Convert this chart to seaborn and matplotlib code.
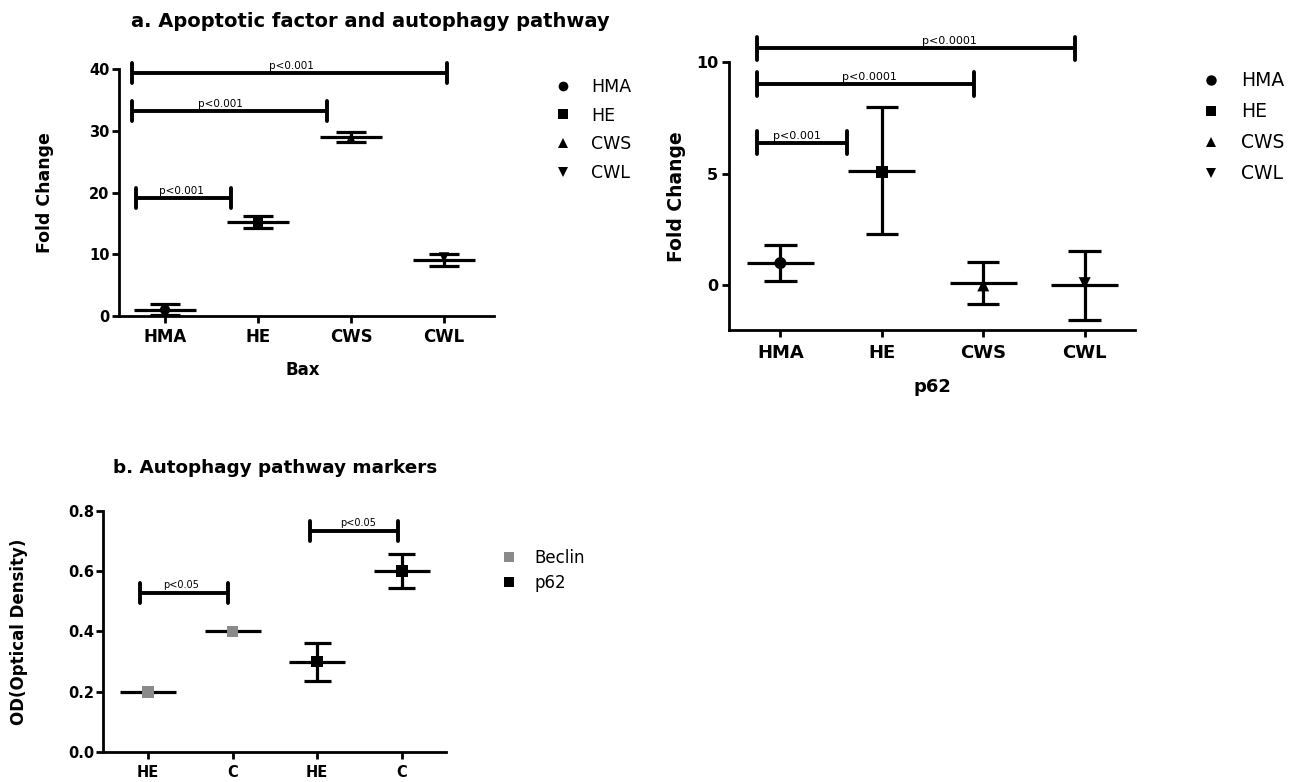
import numpy as np
import pandas as pd
import matplotlib
matplotlib.use("Agg")
import matplotlib.pyplot as plt
import seaborn as sns

# ---------------- data ----------------
groups = ["HMA", "HE", "CWS", "CWL"]
group_markers = ["o", "s", "^", "v"]

bax_mean = [1.05, 15.2, 29.0, 9.05]
bax_sem = [0.9, 1.0, 0.85, 0.95]
bax_point = [1.0, 15.1, 28.8, 9.5]

p62_mean = [1.0, 5.15, 0.1, 0.0]
p62_sem = [0.82, 2.85, 0.95, 1.55]
p62_point = [1.0, 5.1, 0.0, 0.1]

b_ticklabels = ["HE", "C", "HE", "C"]
b_marker = ["Beclin", "Beclin", "p62", "p62"]
b_mean = [0.2, 0.4, 0.3, 0.6]
b_sem = [0.0, 0.0, 0.063, 0.057]

# significance brackets: (x_start, x_end, y, label, label_x)
bax_brackets = [(-0.36, 3.03, 39.35, "p<0.001", 1.36),
                (-0.36, 1.74, 33.24, "p<0.001", 0.60),
                (-0.31, 0.705, 19.18, "p<0.001", 0.18)]
p62_brackets = [(-0.226, 2.90, 10.63, "p<0.0001", 1.67),
                (-0.226, 1.91, 9.03, "p<0.0001", 0.88),
                (-0.226, 0.658, 6.40, "p<0.001", 0.16)]
b_brackets = [(-0.093, 0.949, 0.528, "p<0.05", 0.39),
              (1.918, 2.96, 0.733, "p<0.05", 2.48)]

# ---------------- style ----------------
sns.set_theme(style="ticks")
plt.rcParams["font.family"] = ["DejaVu Sans"]
plt.rcParams["axes.linewidth"] = 2.0
plt.rcParams["xtick.major.width"] = 2.0
plt.rcParams["ytick.major.width"] = 2.0
plt.rcParams["xtick.major.size"] = 4.8
plt.rcParams["ytick.major.size"] = 4.8
plt.rcParams["xtick.color"] = "black"
plt.rcParams["ytick.color"] = "black"
plt.rcParams["axes.edgecolor"] = "black"
plt.rcParams["text.color"] = "black"
plt.rcParams["axes.labelcolor"] = "black"

fig = plt.figure(figsize=(13, 7.82), dpi=100)
ax1 = fig.add_axes([0.0915, 0.5959, 0.2883, 0.3155])
ax2 = fig.add_axes([0.5609, 0.5780, 0.3125, 0.3423])
ax3 = fig.add_axes([0.0795, 0.0380, 0.2635, 0.3090])


def draw_stats(ax, x, mean, sem, half_mean=0.33, half_cap=0.16, lw=2.3):
    x = np.asarray(x, float)
    mean = np.asarray(mean, float)
    sem = np.asarray(sem, float)
    ax.hlines(mean, x - half_mean, x + half_mean, colors="black", lw=lw, zorder=3)
    has = sem > 0
    ax.vlines(x[has], (mean - sem)[has], (mean + sem)[has], colors="black", lw=lw, zorder=3)
    ax.hlines((mean + sem)[has], x[has] - half_cap, x[has] + half_cap, colors="black", lw=lw, zorder=3)
    ax.hlines((mean - sem)[has], x[has] - half_cap, x[has] + half_cap, colors="black", lw=lw, zorder=3)


def draw_brackets(ax, brackets, half_tick, fs, offset_pts=1.5):
    for x0, x1, y, lab, lx in brackets:
        ax.plot([x0, x1], [y, y], color="black", lw=2.8, clip_on=False, zorder=4,
                solid_capstyle="butt")
        ax.plot([x0, x0], [y - half_tick, y + half_tick], color="black", lw=2.8,
                clip_on=False, zorder=4)
        ax.plot([x1, x1], [y - half_tick, y + half_tick], color="black", lw=2.8,
                clip_on=False, zorder=4)
        ax.annotate(lab, (lx, y), xytext=(0, offset_pts), textcoords="offset points",
                    ha="center", va="bottom", fontsize=fs, annotation_clip=False)


def relegend(ax, anchor, fs, ms, ls, pad, colors=None):
    leg = ax.get_legend()
    handles = list(leg.legend_handles)
    labels = [t.get_text() for t in leg.get_texts()]
    leg.remove()
    for i, h in enumerate(handles):
        c = "black" if colors is None else colors[i]
        h.set_markersize(ms)
        h.set_markerfacecolor(c)
        h.set_markeredgecolor(c)
        h.set_markeredgewidth(0)
        h.set_linestyle("none")
    ax.legend(handles, labels, loc="upper left", bbox_to_anchor=anchor,
              bbox_transform=fig.transFigure, frameon=False, fontsize=fs,
              handlelength=1.0, handletextpad=pad, labelspacing=ls,
              borderpad=0, borderaxespad=0)


pos = np.arange(len(groups))

# ---------- panel a: Bax ----------
df_bax = pd.DataFrame({"x": pos, "value": bax_point, "group": groups})
sns.scatterplot(data=df_bax, x="x", y="value", hue="group", style="group",
                hue_order=groups, style_order=groups,
                palette={g: "black" for g in groups},
                markers=dict(zip(groups, group_markers)),
                s=55, linewidth=0, zorder=5, ax=ax1)
draw_stats(ax1, pos, bax_mean, bax_sem)
draw_brackets(ax1, bax_brackets, 1.65, 7.5)
ax1.set_xlim(-0.495, 3.535)
ax1.set_ylim(0, 40)
ax1.set_yticks([0, 10, 20, 30, 40])
ax1.set_xticks(pos)
ax1.set_xticklabels(groups, fontsize=12, fontweight="bold")
ax1.tick_params(axis="y", labelsize=10.5, pad=2)
ax1.tick_params(axis="x", pad=4)
for t in ax1.get_yticklabels():
    t.set_fontweight("bold")
ax1.set_xlabel("Bax", fontsize=12, fontweight="bold")
ax1.set_ylabel("Fold Change", fontsize=12.5, fontweight="bold")
ax1.xaxis.set_label_coords(0.49, -0.182)
ax1.yaxis.set_label_coords(-0.172, 0.5)
sns.despine(ax=ax1)
relegend(ax1, (0.4264, 0.9005), 12.5, 7, 0.62, 1.1)

# ---------- panel a: p62 ----------
df_p62 = pd.DataFrame({"x": pos, "value": p62_point, "group": groups})
sns.scatterplot(data=df_p62, x="x", y="value", hue="group", style="group",
                hue_order=groups, style_order=groups,
                palette={g: "black" for g in groups},
                markers=dict(zip(groups, group_markers)),
                s=75, linewidth=0, zorder=5, ax=ax2)
draw_stats(ax2, pos, p62_mean, p62_sem)
draw_brackets(ax2, p62_brackets, 0.52, 8)
ax2.set_xlim(-0.505, 3.5)
ax2.set_ylim(-2, 10)
ax2.set_yticks([0, 5, 10])
ax2.set_xticks(pos)
ax2.set_xticklabels(groups, fontsize=13, fontweight="bold")
ax2.tick_params(axis="y", labelsize=11.5, pad=3)
ax2.tick_params(axis="x", pad=5)
for t in ax2.get_yticklabels():
    t.set_fontweight("bold")
ax2.set_xlabel("p62", fontsize=13, fontweight="bold")
ax2.set_ylabel("Fold Change", fontsize=13.5, fontweight="bold")
ax2.xaxis.set_label_coords(0.5, -0.179)
ax2.yaxis.set_label_coords(-0.106, 0.5)
sns.despine(ax=ax2)
relegend(ax2, (0.9243, 0.909), 13.5, 7.5, 0.645, 1.1)

# ---------- panel b ----------
bpos = np.arange(len(b_ticklabels))
df_b = pd.DataFrame({"x": bpos, "value": b_mean, "marker": b_marker})
sns.scatterplot(data=df_b, x="x", y="value", hue="marker",
                hue_order=["Beclin", "p62"],
                palette={"Beclin": "#8a8a8a", "p62": "black"},
                marker="s", s=70, linewidth=0, zorder=5, ax=ax3)
draw_stats(ax3, bpos, b_mean, b_sem)
draw_brackets(ax3, b_brackets, 0.033, 7, offset_pts=2)
ax3.set_xlim(-0.527, 3.52)
ax3.set_ylim(0, 0.8)
ax3.set_yticks([0.0, 0.2, 0.4, 0.6, 0.8])
ax3.set_yticklabels(["0.0", "0.2", "0.4", "0.6", "0.8"])
ax3.set_xticks(bpos)
ax3.set_xticklabels(b_ticklabels, fontsize=10.5, fontweight="bold")
ax3.tick_params(axis="y", labelsize=10.5, pad=2)
ax3.tick_params(axis="x", pad=4)
for t in ax3.get_yticklabels():
    t.set_fontweight("bold")
ax3.set_xlabel("")
ax3.set_ylabel("OD(Optical Density)", fontsize=12, fontweight="bold")
ax3.yaxis.set_label_coords(-0.221, 0.5)
sns.despine(ax=ax3)
relegend(ax3, (0.3852, 0.2985), 12, 7, 0.46, 1.0, colors=["#8a8a8a", "black"])

# ---------- titles ----------
fig.text(370.5 / 1300, 1 - 21.7 / 782, "a. Apoptotic factor and autophagy pathway",
         ha="center", va="center", fontsize=14, fontweight="bold")
fig.text(275 / 1300, 1 - 468 / 782, "b. Autophagy pathway markers",
         ha="center", va="center", fontsize=13.2, fontweight="bold")

fig.savefig("out.png", dpi=100)
